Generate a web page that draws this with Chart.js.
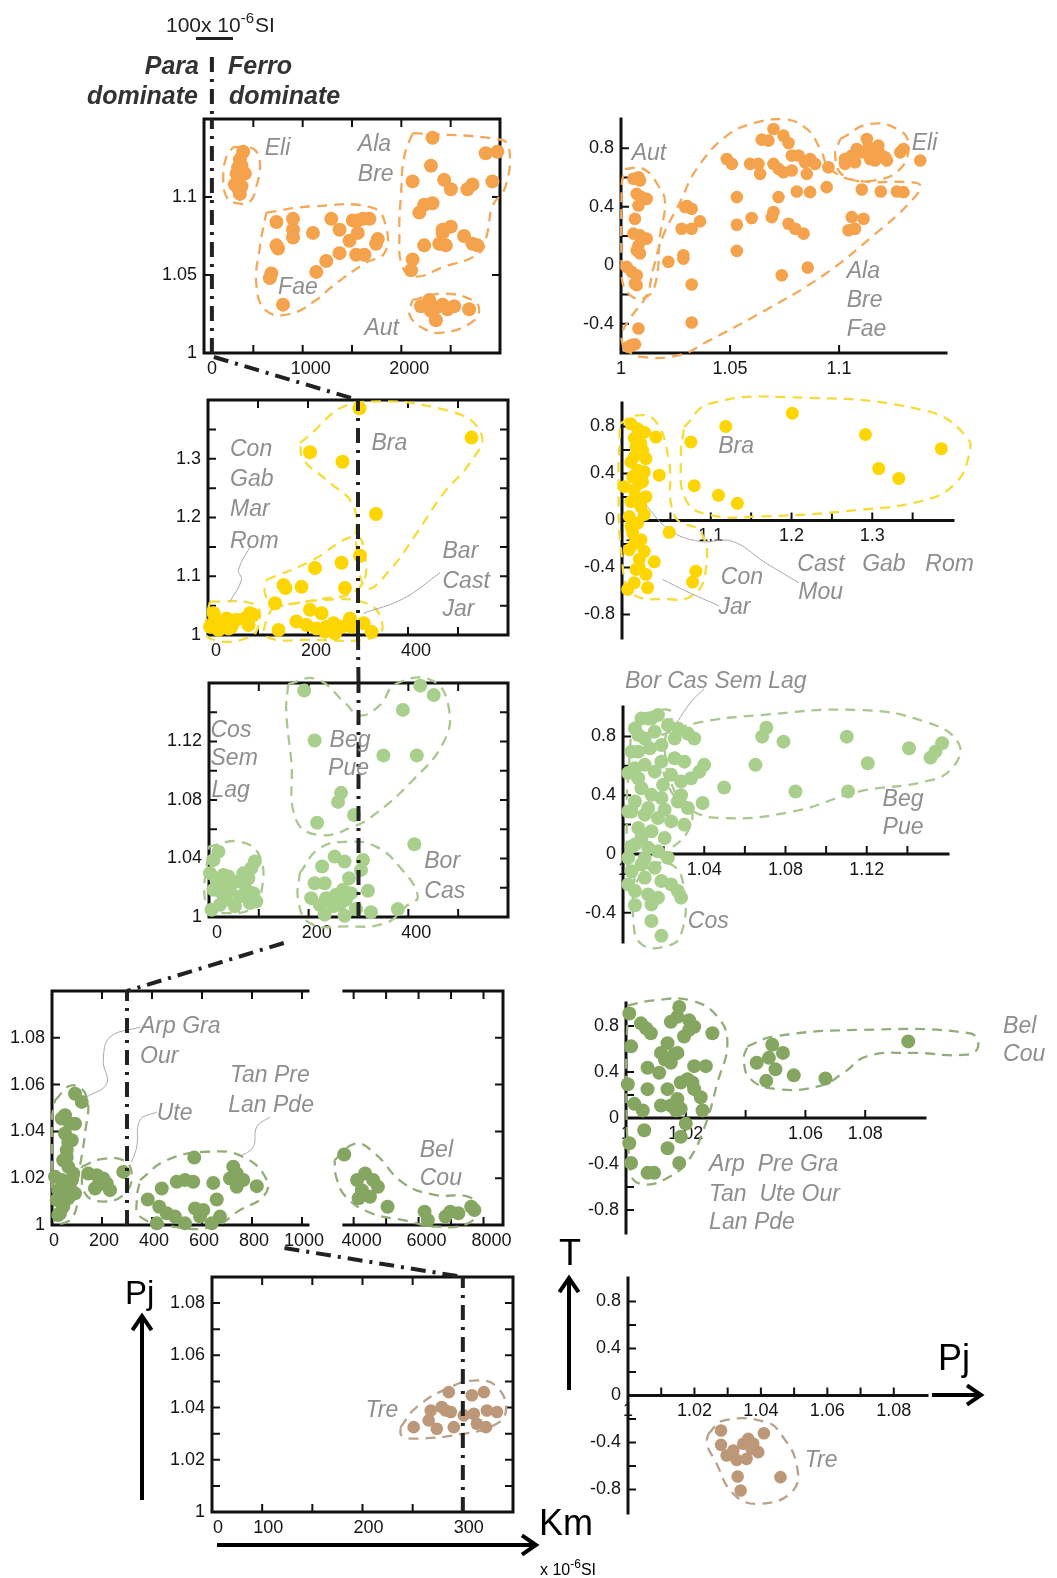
<!DOCTYPE html>
<html>
<head>
<meta charset="utf-8">
<script src="https://cdn.jsdelivr.net/npm/chart.js@4.4.1/dist/chart.umd.min.js"></script>
<style>
  body { margin: 0; background: #fff; width: 1057px; height: 1578px; position: relative; overflow: hidden; }
  canvas { position: absolute; }
</style>
</head>
<body>
<canvas id="overlay" width="1057" height="1578" style="left:0;top:0;z-index:5"></canvas>
<script>
// ---------- data (Km x10^-6 SI vs Pj, and Pj vs T) ----------
const kmLimit = [80, 300, 300, 300, 300]; // para / ferro boundary drawn in each Km panel

// row 1 - orange
const r1Eli = [[397,1.129],[364,1.124],[347,1.119],[364,1.115],[347,1.111],[313,1.108],[380,1.107],[364,1.102],[414,1.115],[330,1.115],[380,1.12],[350,1.105]];
const r1Fae = [[734,1.084],[902,1.086],[902,1.079],[902,1.074],[734,1.069],[751,1.067],[1104,1.077],[1290,1.086],[1374,1.079],[1475,1.072],[1508,1.085],[1559,1.085],[1609,1.086],[1677,1.086],[1559,1.077],[1542,1.063],[1626,1.063],[1761,1.073],[1744,1.070],[1374,1.064],[1239,1.059],[1138,1.052],[683,1.051],[667,1.048],[801,1.031]];
const r1Ala = [[2316,1.138],[2300,1.120],[2114,1.110],[2434,1.111],[2502,1.105],[2670,1.105],[2721,1.108],[2855,1.128],[2973,1.129],[2923,1.110],[2232,1.095],[2316,1.096],[2182,1.090],[2418,1.079],[2502,1.081],[2384,1.070],[2451,1.069],[2636,1.075],[2721,1.070],[2771,1.069],[2232,1.069],[2114,1.060],[2098,1.053],[2418,1.077]];
const r1Aut = [[2199,1.030],[2283,1.034],[2350,1.029],[2418,1.031],[2468,1.028],[2535,1.030],[2687,1.028],[2350,1.021],[2300,1.027]];
const r1EnvEli = [[296,1.132],[498,1.131],[566,1.122],[532,1.107],[465,1.097],[330,1.096],[229,1.100],[195,1.113],[229,1.126]];
const r1EnvFae = [[633,1.090],[1100,1.094],[1710,1.093],[1845,1.081],[1828,1.064],[1643,1.058],[1306,1.043],[1138,1.034],[869,1.025],[633,1.027],[532,1.043],[566,1.068],[616,1.085]];
const r1EnvAla = [[2114,1.141],[2990,1.137],[3091,1.132],[3057,1.107],[2923,1.094],[2872,1.077],[2788,1.064],[2418,1.055],[2148,1.049],[2013,1.055],[1980,1.077],[1997,1.102],[2030,1.126]];
const r1EnvAut = [[2114,1.034],[2418,1.038],[2721,1.034],[2788,1.028],[2721,1.020],[2418,1.013],[2215,1.016],[2081,1.025]];

const r1tAut = [[1.0057,0.591],[1.0080,0.602],[1.0087,0.579],[1.0072,0.488],[1.0095,0.466],[1.0118,0.454],[1.0080,0.409],[1.0064,0.318],[1.0057,0.216],[1.0087,0.204],[1.0102,0.182],[1.0080,0.136],[1.0118,0.182],[1.0072,0.102],[1.0087,0.080],[1.0026,-0.011],[1.0049,-0.045],[1.0072,-0.068],[1.0064,-0.125],[1.0072,-0.136]];
const r1tAbf = [[1.0080,-0.432],[1.0049,-0.545],[1.0064,-0.541],[1.0034,-0.557],[1.0217,0.023],[1.0286,0.068],[1.0294,0.398],[1.0302,0.405],[1.0324,0.386],[1.0278,0.25],[1.0324,0.25],[1.0362,0.30],[1.0286,0.045],[1.0324,-0.132],[1.0324,-0.391],[1.0485,0.727],[1.0508,0.693],[1.0531,0.466],[1.0531,0.277],[1.0531,0.098],[1.0599,0.323],[1.0592,0.693],[1.063,0.693],[1.0638,0.625],[1.0645,0.859],[1.0676,0.852],[1.0699,0.932],[1.0745,0.886],[1.0768,0.836],[1.0699,0.693],[1.0722,0.659],[1.0745,0.636],[1.0783,0.648],[1.0783,0.75],[1.0814,0.75],[1.0844,0.704],[1.0867,0.727],[1.089,0.693],[1.0852,0.625],[1.0722,0.466],[1.0699,0.364],[1.0691,0.329],[1.0768,0.284],[1.0799,0.25],[1.0837,0.216],[1.0806,0.504],[1.0867,0.50],[1.0737,-0.068],[1.0856,-0.016],[1.0951,0.67],[1.0943,0.534],[1.1104,0.518],[1.1191,0.504],[1.1265,0.504],[1.1295,0.50],[1.1058,0.329],[1.1112,0.318],[1.1043,0.239],[1.1073,0.25],[1.1372,0.716]];
const r1tEli = [[1.1027,0.727],[1.1058,0.75],[1.1081,0.795],[1.1104,0.772],[1.1127,0.863],[1.1135,0.807],[1.1157,0.75],[1.118,0.818],[1.1188,0.761],[1.1211,0.738],[1.1219,0.716],[1.128,0.772],[1.1295,0.795],[1.1027,0.693],[1.1073,0.704],[1.1142,0.727],[1.1165,0.716]];
const r1tEnvAut = [[1.0018,0.659],[1.0102,0.659],[1.0171,0.545],[1.0202,0.432],[1.0179,0.204],[1.0156,-0.136],[1.0102,-0.227],[1.0034,-0.193],[1.0003,-0.068],[1.0003,0.545]];
const r1tEnvAbf = [[1.0011,-0.568],[1.0087,-0.625],[1.0271,-0.613],[1.0393,-0.523],[1.0622,-0.341],[1.0928,-0.068],[1.1157,0.204],[1.1326,0.432],[1.1372,0.545],[1.131,0.568],[1.1081,0.579],[1.0959,0.659],[1.0913,0.795],[1.0852,0.932],[1.0745,1.0],[1.0622,0.977],[1.0485,0.886],[1.0347,0.659],[1.0271,0.432],[1.0194,0.204],[1.0148,-0.023],[1.0118,-0.204],[1.0041,-0.364],[1.0003,-0.477]];
const r1tEnvEli = [[1.1005,0.863],[1.1142,0.966],[1.128,0.92],[1.1318,0.818],[1.128,0.659],[1.1157,0.579],[1.102,0.613],[1.0982,0.75]];

// row 2 - yellow
const r2Bra = [[303,1.386],[527,1.336],[204,1.311],[269,1.295],[336,1.206],[304,1.135]];
const r2Mid = [[267,1.123],[214,1.114],[151,1.085],[155,1.080],[187,1.082],[274,1.080],[134,1.054],[204,1.043],[227,1.037]];
const r2Low = [[141,1.0085],[177,1.023],[197,1.017],[217,1.011],[237,1.014],[251,1.020],[267,1.014],[284,1.028],[287,1.014],[311,1.020],[327,1.0057],[234,1.0057],[254,1.003]];
const r2Left = [[11,1.037],[14,1.026],[24,1.017],[37,1.028],[47,1.014],[57,1.026],[74,1.028],[84,1.037],[91,1.034],[4,1.014],[21,1.0085],[41,1.011],[81,1.017]];
const r2EnvBra = [[184,1.327],[297,1.396],[484,1.381],[547,1.341],[524,1.293],[471,1.241],[417,1.173],[364,1.111],[317,1.080],[297,1.151],[291,1.219],[237,1.264],[191,1.298]];
const r2EnvMid = [[117,1.094],[204,1.125],[291,1.168],[311,1.151],[304,1.082],[217,1.060],[131,1.054],[114,1.071]];
const r2EnvLow = [[131,1.048],[237,1.060],[317,1.054],[347,1.026],[337,0.997],[204,0.992],[117,0.997],[117,1.026]];
const r2EnvLeft = [[4,1.057],[91,1.053],[104,1.031],[84,0.997],[4,0.994],[-3,1.026]];
const r2LeadRom = [[84,1.150],[61,1.111],[67,1.094],[44,1.057]];
const r2LeadBar = [[464,1.106],[391,1.062],[311,1.037]];

const r2tBra = [[1.201,0.913],[1.1185,0.80],[1.0753,0.668],[1.2916,0.732],[1.3855,0.611],[1.308,0.442],[1.3328,0.358],[1.0794,0.296],[1.1095,0.214],[1.1329,0.146]];
const r2tCon = [[1.0485,-0.101],[1.0361,0.386],[1.0320,0.71],[1.0815,-0.431],[1.0774,-0.524],[1.0300,-0.352],[1.0093,0.78],[1.0176,0.752],[1.0073,0.625],[1.0155,0.597],[1.0052,0.541],[1.0197,0.527],[1.0093,0.428],[1.0176,0.414],[1.0032,0.372],[1.0114,0.316],[1.0052,0.259],[1.0197,0.203],[1.0011,0.161],[1.0135,0.118],[0.999,0.034],[1.0093,-0.023],[1.0032,-0.107],[1.0135,-0.163],[0.999,-0.248],[1.0176,-0.262],[1.0073,-0.417],[1.0197,-0.459],[1.0052,-0.53],[1.0217,-0.572],[0.997,-0.586],[0.993,0.287],[1.0011,0.823],[1.0135,0.653],[1.0011,0.499],[1.0073,0.20],[1.0114,-0.33],[1.0052,0.70],[1.0155,0.33],[1.0011,-0.05],[1.0114,-0.40],[1.0052,-0.20],[1.0176,0.05]];
const r2tEnvBra = [[1.067,0.794],[1.098,0.992],[1.201,1.048],[1.3657,0.935],[1.4172,0.71],[1.4192,0.541],[1.4028,0.316],[1.3657,0.175],[1.2833,0.09],[1.1597,0.034],[1.098,0.048],[1.0691,0.175],[1.0629,0.541]];
const r2tEnvCon = [[0.9876,0.823],[1.0061,0.893],[1.0308,0.851],[1.0473,0.541],[1.0556,0.034],[1.0885,-0.107],[1.0926,-0.473],[1.0762,-0.642],[1.0473,-0.67],[1.0019,-0.614],[0.9897,-0.304],[0.9856,0.259]];
const r2tLeadMou = [[1.0143,0.175],[1.0485,-0.079],[1.0856,-0.177],[1.1268,-0.177],[1.1679,-0.361],[1.2091,-0.53]];
const r2tLeadJar = [[1.0402,-0.501],[1.0691,-0.6],[1.1103,-0.727]];

// row 3 - light green
const r3Beg = [[191,1.1548],[424,1.1582],[451,1.1518],[389,1.1416],[212,1.1207],[350,1.1105],[417,1.1105],[265,1.0849],[259,1.0787],[291,1.0697],[217,1.0644],[412,1.0497]];
const r3Bor = [[252,1.0413],[272,1.0379],[227,1.0345],[309,1.0390],[305,1.0322],[281,1.0265],[212,1.0231],[232,1.0231],[319,1.0179],[205,1.0129],[235,1.0129],[255,1.0152],[269,1.0186],[285,1.0163],[222,1.0084],[262,1.0084],[295,1.0054],[325,1.0032],[379,1.0054],[232,1.0016],[272,1.0009],[249,1.0073],[275,1.0118]];
const r3Cos = [[19,1.0447],[9,1.039],[2,1.030],[15,1.0254],[29,1.0288],[39,1.0277],[9,1.0186],[26,1.0163],[42,1.0186],[22,1.0084],[35,1.0118],[59,1.0243],[69,1.030],[85,1.0334],[92,1.0379],[75,1.0186],[89,1.0163],[82,1.0095],[62,1.0141],[52,1.0073],[5,1.005],[95,1.0107],[79,1.0265],[32,1.022]];
const r3EnvBeg = [[159,1.1593],[215,1.1627],[275,1.1457],[302,1.1377],[342,1.1445],[375,1.1593],[449,1.1616],[482,1.1411],[469,1.1184],[409,1.0935],[335,1.0708],[289,1.0617],[222,1.056],[175,1.0663],[165,1.1071],[155,1.1411]];
const r3EnvBor = [[182,1.030],[222,1.047],[282,1.0515],[335,1.0481],[382,1.0345],[419,1.0141],[395,1.0073],[355,0.9959],[275,0.9936],[202,0.9959],[179,1.0118]];
const r3EnvCos = [[-1,1.0481],[62,1.0515],[102,1.0413],[105,1.0163],[89,1.0061],[35,1.0027],[-5,1.0073]];

const r3tBeg = [[1.0706,0.859],[1.0685,0.798],[1.079,0.764],[1.1102,0.798],[1.1408,0.719],[1.1571,0.753],[1.1538,0.696],[1.1514,0.655],[1.1205,0.617],[1.0652,0.606],[1.0498,0.452],[1.0849,0.425],[1.1108,0.425],[1.0392,0.346],[1.04,0.606],[1.0376,0.56]];
const r3tMain = [[1.0059,0.854],[1.0124,0.922],[1.0172,0.945],[1.0107,0.786],[1.0156,0.832],[1.0221,0.877],[1.027,0.854],[1.0319,0.82],[1.0351,0.786],[1.0075,0.696],[1.0132,0.719],[1.0189,0.741],[1.0254,0.651],[1.0302,0.628],[1.0237,0.538],[1.0286,0.493],[1.0335,0.515],[1.0059,0.583],[1.0107,0.606],[1.0156,0.56],[1.0197,0.47],[1.0091,0.447],[1.014,0.402],[1.0059,0.357],[1.0189,0.38],[1.027,0.357],[1.0319,0.312],[1.0042,0.289],[1.0107,0.267],[1.0172,0.244],[1.0237,0.221],[1.0302,0.199],[1.0075,0.176],[1.014,0.154],[1.0205,0.108],[1.0059,0.063],[1.0124,0.041],[1.0172,0.018],[1.0026,-0.027],[1.0091,-0.072],[1.0156,-0.095],[1.0042,-0.118],[1.0107,-0.163],[1.0189,-0.185],[1.0237,-0.208],[1.0059,-0.253],[1.0124,-0.276],[1.0172,-0.298],[1.0026,-0.208],[1.027,-0.253],[1.0286,-0.298],[1.014,-0.344],[1.0042,0.696],[1.0026,0.289],[1.0091,0.922],[1.0075,0.515],[1.0124,0.312],[1.0091,0.108],[1.0221,-0.027],[1.0189,0.628],[1.014,0.922],[1.0075,0.809],[1.0254,0.786],[1.0026,0.55],[1.0042,0.05],[1.0107,-0.03],[1.0205,0.30],[1.0286,0.40],[1.0059,-0.35]];
const r3tCos = [[1.014,-0.457],[1.0189,-0.558]];
const r3tEnvBeg = [[1.0189,0.809],[1.0351,0.888],[1.0676,0.945],[1.1164,0.979],[1.1489,0.899],[1.1652,0.753],[1.162,0.583],[1.1489,0.493],[1.1164,0.425],[1.0839,0.289],[1.0481,0.244],[1.0319,0.312],[1.0221,0.47],[1.0189,0.696]];
const r3tEnvMain = [[1.0042,0.877],[1.0124,0.956],[1.0237,0.967],[1.0205,0.741],[1.0254,0.425],[1.0335,0.312],[1.0319,0.154],[1.0221,0.018],[1.0107,-0.118],[1.0042,-0.208],[1.0018,0.244],[1.0034,0.696]];
const r3tEnvCos = [[1.0059,-0.095],[1.0237,-0.072],[1.0302,-0.253],[1.0286,-0.547],[1.0221,-0.626],[1.0091,-0.615],[1.005,-0.434]];
const r3tLeadBor = [[1.04,1.125],[1.0335,1.035],[1.0262,0.888]];

// row 4 - dark green (Km axis broken between 1024 and 3700)
const r4Arp = [[92,1.0561],[119,1.0526],[52,1.0469],[72,1.0433],[92,1.0433],[52,1.0391],[79,1.0362],[59,1.032],[45,1.0277],[65,1.0249],[85,1.022],[39,1.0192],[72,1.0163],[25,1.0149],[52,1.0135],[92,1.0135],[19,1.0107],[45,1.0078],[32,1.005],[65,1.0114],[79,1.0192],[12,1.0206],[59,1.0291],[65,1.0355],[39,1.0455],[25,1.0043]];
const r4Ute = [[145,1.022],[179,1.0213],[205,1.0199],[185,1.0171],[219,1.0178],[232,1.0149],[172,1.0156],[285,1.0227]];
const r4Tan = [[569,1.0288],[439,1.0156],[499,1.0185],[532,1.0192],[565,1.0185],[645,1.018],[712,1.0199],[739,1.022],[725,1.0249],[765,1.0192],[739,1.0163],[819,1.0166],[383,1.0109],[429,1.0078],[459,1.005],[419,1.0007],[492,1.0036],[532,1.0007],[572,1.0071],[592,1.0036],[659,1.0109],[672,1.0036],[639,1.0007],[605,1.0064]];
const r4Bel = [[3710,1.0301],[4106,1.0192],[4353,1.022],[4601,1.0192],[4749,1.0163],[4254,1.0149],[4502,1.0121],[4155,1.0114],[5046,1.0078],[6185,1.0057],[6284,1.0021],[6828,1.0036],[6977,1.0057],[7224,1.005],[7620,1.0078],[7719,1.0064]];
const r4EnvArp = [[12,1.0533],[79,1.0597],[139,1.0547],[132,1.0391],[105,1.0206],[85,1.0036],[12,1.0007],[-1,1.022],[-1,1.0448]];
const r4EnvUte = [[119,1.0249],[192,1.028],[285,1.0277],[319,1.022],[292,1.0135],[205,1.01],[132,1.0135]];
const r4EnvTan = [[352,1.0192],[459,1.0277],[619,1.0313],[765,1.0291],[859,1.0192],[845,1.0121],[752,1.0064],[645,0.9993],[485,0.9993],[352,1.0036],[339,1.0107]];
const r4EnvBel = [[3413,1.0277],[4056,1.0348],[4650,1.0306],[5541,1.0178],[6531,1.0128],[7521,1.0121],[7818,1.0071],[7521,1.0007],[6531,0.9993],[5541,1.0021],[4551,1.005],[3759,1.0121],[3462,1.0206]];
const r4LeadArp = [[352,1.0846],[232,1.0803],[205,1.0703],[219,1.0604],[139,1.0547]];
const r4LeadUte = [[419,1.0483],[352,1.0448],[339,1.0334],[319,1.027]];
const r4LeadTan = [[872,1.0462],[819,1.0419],[805,1.0334],[752,1.0291]];

const r4tArp = [[1.0011,0.909],[1.005,0.823],[1.0067,0.78],[1.0083,0.737],[1.0017,0.623],[1.0072,0.437],[1.0006,0.294],[1.0072,0.251],[1.0028,0.123],[1.0056,0.066],[1.0061,-0.106],[1.0011,-0.22],[1.0017,-0.391],[1.0072,-0.477],[1.0094,-0.477],[1.0139,-0.263],[1.0178,-0.391],[1.0183,-0.163],[1.02,-0.049],[1.0167,0.066],[1.015,0.109],[1.0172,0.166],[1.0183,0.309],[1.0206,0.337],[1.0222,0.309],[1.0228,0.251],[1.025,0.18],[1.0256,0.066],[1.0228,0.451],[1.0267,0.451],[1.0139,0.251],[1.0117,0.566],[1.013,0.509],[1.015,0.48],[1.0111,0.394],[1.0139,0.651],[1.0161,0.551],[1.0178,0.966],[1.0172,0.88],[1.015,0.837],[1.0211,0.851],[1.0228,0.794],[1.0194,0.709],[1.0211,0.766],[1.0289,0.737],[1.0183,0.08],[1.0172,0.566],[1.0117,0.109]];
const r4tBel = [[1.0437,0.48],[1.0489,0.637],[1.0478,0.523],[1.05,0.423],[1.0525,0.566],[1.0469,0.323],[1.0561,0.371],[1.0667,0.343],[1.0944,0.666],[1.1133,0.637]];
const r4tEnvArp = [[1.0006,0.98],[1.0094,1.023],[1.0217,1.023],[1.0306,0.88],[1.0339,0.651],[1.0306,0.309],[1.0261,-0.091],[1.0206,-0.377],[1.0139,-0.52],[1.0061,-0.577],[1.0017,-0.491],[1.0,0.309]];
const r4tEnvBel = [[1.0406,0.623],[1.0494,0.709],[1.0783,0.766],[1.115,0.737],[1.1178,0.623],[1.1139,0.551],[1.095,0.566],[1.0806,0.537],[1.0728,0.394],[1.065,0.28],[1.0506,0.251],[1.0417,0.337],[1.0394,0.509]];

// row 5 - brown
const r5Tre = [[251,1.0325],[268,1.0389],[266,1.0351],[274,1.0319],[279,1.0402],[288,1.0383],[286,1.0459],[291,1.0325],[301,1.037],[309,1.0447],[311,1.0376],[314,1.0338],[321,1.0459],[323,1.0325],[324,1.0389],[334,1.0383],[283,1.0389]];
const r5EnvTre = [[238,1.0325],[254,1.0402],[288,1.0479],[314,1.0504],[334,1.0479],[343,1.0389],[331,1.0332],[301,1.03],[254,1.0281],[239,1.0293]];
const r5tTre = [[1.028,-0.298],[1.028,-0.42],[1.0297,-0.511],[1.0317,-0.468],[1.0327,-0.548],[1.0347,-0.411],[1.0362,-0.369],[1.0377,-0.411],[1.0392,-0.482],[1.0357,-0.539],[1.0372,-0.454],[1.0409,-0.321],[1.033,-0.689],[1.0339,-0.809],[1.0459,-0.695]];
const r5tEnvTre = [[1.0242,-0.326],[1.0287,-0.213],[1.0417,-0.227],[1.0467,-0.355],[1.0507,-0.582],[1.0497,-0.809],[1.0397,-0.922],[1.0317,-0.837],[1.0262,-0.553],[1.0237,-0.411]];

// tick values and printed tick labels
const ticks1x = [0,500,1000,1500,2000,2500,3000], lab1x = [[0,'0'],[1000,'1000'],[2000,'2000']];
const ticks1y = [1,1.05,1.1], lab1y = [[1,'1'],[1.05,'1.05'],[1.1,'1.1']];
const ticks1tx = [1.05,1.1], lab1tx = [[1,'1'],[1.05,'1.05'],[1.1,'1.1']];
const ticksTy6 = [-0.4,-0.2,0,0.2,0.4,0.6,0.8], labTy6 = [[-0.4,'-0.4'],[0,'0'],[0.4,'0.4'],[0.8,'0.8']];
const ticksTy8 = [-0.8,-0.6,-0.4,-0.2,0,0.2,0.4,0.6,0.8], labTy8 = [[-0.8,'-0.8'],[-0.4,'-0.4'],[0,'0'],[0.4,'0.4'],[0.8,'0.8']];
const ticks2x = [100,200,300,400,500], lab2x = [[0,'0'],[200,'200'],[400,'400']];
const ticks2y = [1.05,1.1,1.15,1.2,1.25,1.3,1.35], lab2y = [[1,'1'],[1.1,'1.1'],[1.2,'1.2'],[1.3,'1.3']];
const ticks2tx = [1.05,1.1,1.15,1.2,1.25,1.3,1.35], lab2tx = [[1,'1'],[1.1,'1.1'],[1.2,'1.2'],[1.3,'1.3']];
const ticks3y = [1.02,1.04,1.06,1.08,1.1,1.12,1.14], lab3y = [[1,'1'],[1.04,'1.04'],[1.08,'1.08'],[1.12,'1.12']];
const ticks3tx = [1.02,1.04,1.06,1.08,1.1,1.12,1.14], lab3tx = [[1,'1'],[1.04,'1.04'],[1.08,'1.08'],[1.12,'1.12']];
const ticks4ax = [200,400,600,800,1000], lab4ax = [[0,'0'],[200,'200'],[400,'400'],[600,'600'],[800,'800'],[1000,'1000']];
const ticks4bx = [4000,5000,6000,7000,8000], lab4bx = [[4000,'4000'],[6000,'6000'],[8000,'8000']];
const ticks4y = [1.02,1.04,1.06,1.08], lab4y = [[1,'1'],[1.02,'1.02'],[1.04,'1.04'],[1.06,'1.06'],[1.08,'1.08']];
const ticks4tx = [1.02,1.04,1.06,1.08], lab4tx = [[1,'1'],[1.02,'1.02'],[1.06,'1.06'],[1.08,'1.08']];
const ticks5x = [100,150,200,250,300], lab5x = [[50,'0'],[100,'100'],[200,'200'],[300,'300']];
const ticks5y = [1.01,1.02,1.03,1.04,1.05,1.06,1.07,1.08], lab5y = [[1,'1'],[1.02,'1.02'],[1.04,'1.04'],[1.06,'1.06'],[1.08,'1.08']];
const ticks5tx = [1.01,1.02,1.03,1.04,1.05,1.06,1.07,1.08], lab5tx = [[1,'1'],[1.02,'1.02'],[1.04,'1.04'],[1.06,'1.06'],[1.08,'1.08']];

// ---------- drawing ----------
const FONT = '"Liberation Sans", Arial, sans-serif';
const GREY = '#8e8e8e';
const ORANGE = '#f4a24c', YELLOW = '#fdd500', LGREEN = '#a8d08c', DGREEN = '#85a660', BROWN = '#bc9878';
const ENV = { o: '#f2a95c', y: '#f6dc3a', lg: '#a9c78e', dg: '#93ad78', b: '#b9a28c' };

function pts(a) { return a.map(p => ({ x: p[0], y: p[1] })); }
function loop(a) { return pts(a.concat([a[0]])); }
function labeller(list) {
  return v => { const f = list.find(l => Math.abs(l[0] - v) < 1e-7); return f ? f[1] : ''; };
}

function panel(rect, pad, cfg) {
  const [L, T, R, B] = rect;
  const cv = document.createElement('canvas');
  cv.width = R - L + pad[0] + pad[2];
  cv.height = B - T + pad[1] + pad[3];
  cv.style.left = (L - pad[0]) + 'px';
  cv.style.top = (T - pad[1]) + 'px';
  document.body.appendChild(cv);
  const cross = cfg.xAt !== undefined;
  const ds = [];
  if (cfg.vline !== undefined) {
    ds.push({ data: pts([[cfg.vline, cfg.y[0]], [cfg.vline, cfg.y[1]]]), showLine: true, pointRadius: 0,
      borderColor: '#222', borderWidth: 4, borderDash: [15, 7, 3, 7], order: 0, clip: false });
  }
  (cfg.series || []).forEach(s => ds.push({ data: pts(s[0]), backgroundColor: s[1], borderWidth: 0,
    pointRadius: s[2] || 7, order: 1, clip: false }));
  (cfg.leads || []).forEach(l => ds.push({ data: pts(l), showLine: true, pointRadius: 0, borderColor: '#a8a8a8',
    borderWidth: 1, tension: 0.4, order: 2, clip: false }));
  (cfg.envs || []).forEach(e => ds.push({ data: loop(e[0]), showLine: true, pointRadius: 0, borderColor: e[1],
    borderWidth: 2.3, borderDash: [10, 7], tension: 0.45, order: 3, clip: false }));

  const frame = {
    id: 'frame',
    beforeDatasetsDraw(chart) {
      const ctx = chart.ctx, a = chart.chartArea, xs = chart.scales.x, ys = chart.scales.y;
      const sides = cfg.sides, tl = 8;
      ctx.save();
      ctx.strokeStyle = '#111';
      ctx.lineWidth = 2;
      ctx.beginPath();
      cfg.yTicks.forEach(v => {
        const y = ys.getPixelForValue(v);
        if (sides.includes('left')) { ctx.moveTo(a.left, y); ctx.lineTo(a.left + tl, y); }
        if (sides.includes('right')) { ctx.moveTo(a.right, y); ctx.lineTo(a.right - tl, y); }
      });
      cfg.xTicks.forEach(v => {
        const x = xs.getPixelForValue(v);
        if (sides.includes('top')) { ctx.moveTo(x, a.top); ctx.lineTo(x, a.top + tl); }
        if (sides.includes('bottom')) { ctx.moveTo(x, a.bottom); ctx.lineTo(x, a.bottom - tl); }
        if (cross) { const y0 = ys.getPixelForValue(cfg.xAt); ctx.moveTo(x, y0); ctx.lineTo(x, y0 - tl); }
      });
      ctx.stroke();
      ctx.lineWidth = 3;
      ctx.lineCap = 'square';
      ctx.beginPath();
      if (sides.includes('left')) { ctx.moveTo(a.left, a.top); ctx.lineTo(a.left, a.bottom); }
      if (sides.includes('right')) { ctx.moveTo(a.right, a.top); ctx.lineTo(a.right, a.bottom); }
      if (sides.includes('top')) { ctx.moveTo(a.left, a.top); ctx.lineTo(a.right, a.top); }
      if (sides.includes('bottom')) { ctx.moveTo(a.left, a.bottom); ctx.lineTo(a.right, a.bottom); }
      if (cross) { const y0 = ys.getPixelForValue(cfg.xAt); ctx.moveTo(a.left, y0); ctx.lineTo(a.right, y0); }
      ctx.stroke();
      ctx.restore();
    }
  };
  const notes = {
    id: 'notes',
    afterDatasetsDraw(chart) {
      const ctx = chart.ctx;
      ctx.save();
      ctx.font = 'italic 23px ' + FONT;
      ctx.fillStyle = GREY;
      ctx.textBaseline = 'middle';
      ctx.textAlign = 'left';
      (cfg.notes || []).forEach(n => {
        ctx.fillText(n[0], chart.scales.x.getPixelForValue(n[1]), chart.scales.y.getPixelForValue(n[2]));
      });
      ctx.restore();
    }
  };
  const tickFont = { family: FONT, size: 18 };
  return new Chart(cv, {
    type: 'scatter',
    data: { datasets: ds },
    options: {
      responsive: false, animation: false, events: [],
      layout: { padding: { left: 0, top: pad[1], right: pad[2], bottom: cross ? pad[3] : 0 } },
      scales: {
        x: {
          type: 'linear', position: cross ? { y: cfg.xAt } : 'bottom', min: cfg.x[0], max: cfg.x[1], bounds: 'data',
          grid: { display: false, drawTicks: false }, border: { display: false },
          afterBuildTicks: s => { s.ticks = cfg.xLab.map(l => ({ value: l[0] })); },
          afterFit: s => { if (!cross) s.height = pad[3]; },
          ticks: { autoSkip: false, maxRotation: 0, padding: cfg.xPad || 5, labelOffset: cfg.xOff || 0,
            font: tickFont, color: '#151515', callback: labeller(cfg.xLab) }
        },
        y: {
          type: 'linear', position: 'left', min: cfg.y[0], max: cfg.y[1], bounds: 'data',
          grid: { display: false, drawTicks: false }, border: { display: false },
          afterBuildTicks: s => { s.ticks = cfg.yLab.map(l => ({ value: l[0] })); },
          afterFit: s => { s.width = pad[0]; },
          ticks: { autoSkip: false, padding: 7, font: tickFont, color: '#151515', callback: labeller(cfg.yLab) }
        }
      },
      plugins: { legend: { display: false }, tooltip: { enabled: false } }
    },
    plugins: [frame, notes]
  });
}

// ----- row 1 -----
const c1L = panel([204, 119, 500, 353], [60, 30, 40, 40], {
  x: [0, 3000], y: [1, 1.15], xTicks: ticks1x, yTicks: ticks1y, xLab: lab1x, yLab: lab1y, xOff: 8,
  sides: ['left', 'top', 'right', 'bottom'], vline: kmLimit[0],
  series: [[r1Eli, ORANGE], [r1Fae, ORANGE], [r1Ala, ORANGE], [r1Aut, ORANGE]],
  envs: [[r1EnvEli, ENV.o], [r1EnvFae, ENV.o], [r1EnvAla, ENV.o], [r1EnvAut, ENV.o]],
  notes: [['Eli', 616, 1.131], ['Ala', 1559, 1.1333], ['Bre', 1559, 1.1141], ['Fae', 751, 1.042], ['Aut', 1626, 1.0158]]
});
panel([621, 119, 946, 353], [60, 30, 111, 40], {
  x: [1, 1.149], y: [-0.6, 1.0], xTicks: ticks1tx, yTicks: ticksTy6, xLab: lab1tx, yLab: labTy6,
  sides: ['left', 'bottom'],
  series: [[r1tAut, ORANGE, 6.3], [r1tAbf, ORANGE, 6.3], [r1tEli, ORANGE, 6.3]],
  envs: [[r1tEnvAut, ENV.o], [r1tEnvAbf, ENV.o], [r1tEnvEli, ENV.o]],
  notes: [['Aut', 1.0049, 0.761], ['Eli', 1.1333, 0.829], ['Ala', 1.1035, -0.045], ['Bre', 1.1035, -0.239], ['Fae', 1.1035, -0.443]]
});

// ----- row 2 -----
const c2L = panel([208, 400, 508, 635], [60, 30, 40, 40], {
  x: [0, 600], y: [1, 1.4], xTicks: ticks2x, yTicks: ticks2y, xLab: lab2x, yLab: lab2y, xOff: 8,
  sides: ['left', 'top', 'right', 'bottom'], vline: kmLimit[1],
  series: [[r2Bra, YELLOW], [r2Mid, YELLOW], [r2Low, YELLOW], [r2Left, YELLOW]],
  envs: [[r2EnvBra, ENV.y], [r2EnvMid, ENV.y], [r2EnvLow, ENV.y], [r2EnvLeft, ENV.y]],
  leads: [r2LeadRom, r2LeadBar],
  notes: [['Con', 44, 1.315], ['Gab', 44, 1.264], ['Mar', 44, 1.213], ['Rom', 44, 1.159], ['Bra', 327, 1.3266],
    ['Bar', 469, 1.142], ['Cast', 469, 1.091], ['Jar', 469, 1.043]]
});
panel([622, 403, 953, 638], [60, 30, 104, 50], {
  x: [0.99, 1.4], y: [-1, 1], xAt: 0, xTicks: ticks2tx, yTicks: ticksTy8, xLab: lab2tx, yLab: labTy8,
  sides: ['left'],
  series: [[r2tBra, YELLOW, 6.5], [r2tCon, YELLOW, 6.5]],
  envs: [[r2tEnvBra, ENV.y], [r2tEnvCon, ENV.y]],
  leads: [r2tLeadMou, r2tLeadJar],
  notes: [['Bra', 1.1092, 0.625], ['Cast', 1.2071, -0.375], ['Gab', 1.2875, -0.375], ['Rom', 1.3657, -0.375],
    ['Con', 1.1124, -0.487], ['Mou', 1.2084, -0.614], ['Jar', 1.1095, -0.741]]
});

// ----- row 3 -----
const c3L = panel([209, 683, 508, 917], [60, 30, 40, 40], {
  x: [0, 600], y: [1, 1.16], xTicks: ticks2x, yTicks: ticks3y, xLab: lab2x, yLab: lab3y, xOff: 8,
  sides: ['left', 'top', 'right', 'bottom'], vline: kmLimit[2],
  series: [[r3Beg, LGREEN], [r3Bor, LGREEN], [r3Cos, LGREEN]],
  envs: [[r3EnvBeg, ENV.lg], [r3EnvBor, ENV.lg], [r3EnvCos, ENV.lg]],
  notes: [['Cos', 3, 1.1275], ['Sem', 3, 1.1082], ['Lag', 5, 1.0867], ['Beg', 242, 1.1207], ['Pue', 239, 1.1014],
    ['Bor', 432, 1.0379], ['Cas', 432, 1.0175]]
});
panel([623, 707, 948, 942], [60, 50, 109, 40], {
  x: [1, 1.16], y: [-0.6, 1.0], xAt: 0, xTicks: ticks3tx, yTicks: ticksTy6, xLab: lab3tx, yLab: labTy6,
  sides: ['left'],
  series: [[r3tMain, LGREEN], [r3tBeg, LGREEN], [r3tCos, LGREEN]],
  envs: [[r3tEnvBeg, ENV.lg], [r3tEnvMain, ENV.lg], [r3tEnvCos, ENV.lg]],
  leads: [r3tLeadBor],
  notes: [['Bor Cas Sem Lag', 1.001, 1.171], ['Beg', 1.1278, 0.368], ['Pue', 1.1278, 0.176], ['Cos', 1.0319, -0.461]]
});

// ----- row 4 -----
const c4a = panel([52, 991, 308, 1225], [52, 30, 20, 40], {
  x: [0, 1024], y: [1, 1.1], xTicks: ticks4ax, yTicks: ticks4y, xLab: lab4ax, yLab: lab4y, xOff: 2,
  sides: ['left', 'top', 'bottom'], vline: kmLimit[3],
  series: [[r4Arp, DGREEN], [r4Ute, DGREEN], [r4Tan, DGREEN]],
  envs: [[r4EnvArp, ENV.dg], [r4EnvUte, ENV.dg], [r4EnvTan, ENV.dg]],
  leads: [r4LeadArp, r4LeadUte, r4LeadTan],
  notes: [['Arp Gra', 352, 1.0846], ['Our', 352, 1.0718], ['Ute', 419, 1.0476], ['Tan Pre', 712, 1.064], ['Lan Pde', 705, 1.0512]]
});
panel([338, 991, 503, 1225], [10, 30, 30, 40], {
  x: [3700, 8600], y: [1, 1.1], xTicks: ticks4bx, yTicks: ticks4y, xLab: lab4bx, yLab: [], xOff: 8,
  sides: ['top', 'right', 'bottom'],
  series: [[r4Bel, DGREEN]],
  envs: [[r4EnvBel, ENV.dg]],
  notes: [['Bel', 6036, 1.032], ['Cou', 6036, 1.0199]]
});
panel([626, 1003, 925, 1233], [60, 30, 132, 40], {
  x: [1, 1.1], y: [-1, 1], xAt: 0, xTicks: ticks4tx, yTicks: ticksTy8, xLab: lab4tx, yLab: labTy8,
  sides: ['left'],
  series: [[r4tArp, DGREEN], [r4tBel, DGREEN]],
  envs: [[r4tEnvArp, ENV.dg], [r4tEnvBel, ENV.dg]],
  notes: [['Bel', 1.1261, 0.794], ['Cou', 1.1261, 0.551], ['Arp  Pre Gra', 1.0278, -0.406], ['Tan  Ute Our', 1.0278, -0.663],
    ['Lan Pde', 1.0278, -0.906]]
});

// ----- row 5 -----
const c5L = panel([212, 1277, 513, 1512], [60, 30, 20, 40], {
  x: [50, 350], y: [1, 1.09], xTicks: ticks5x, yTicks: ticks5y, xLab: lab5x, yLab: lab5y, xOff: 6,
  sides: ['left', 'top', 'right', 'bottom'], vline: kmLimit[4],
  series: [[r5Tre, BROWN, 6.3]],
  envs: [[r5EnvTre, ENV.b]],
  notes: [['Tre', 203, 1.0389]]
});
panel([628, 1278, 927, 1513], [60, 30, 40, 40], {
  x: [1, 1.09], y: [-1, 1], xAt: 0, xTicks: ticks5tx, yTicks: ticksTy8, xLab: lab5tx, yLab: labTy8,
  sides: ['left'],
  series: [[r5tTre, BROWN, 6.3]],
  envs: [[r5tEnvTre, ENV.b]],
  notes: [['Tre', 1.0532, -0.553]]
});

// ---------- figure annotations ----------
const ov = document.getElementById('overlay').getContext('2d');
const px = (ch, v) => ch.canvas.offsetLeft + ch.scales.x.getPixelForValue(v);
const py = (ch, v) => ch.canvas.offsetTop + ch.scales.y.getPixelForValue(v);

function dashDot(x1, y1, x2, y2) {
  ov.save();
  ov.strokeStyle = '#222';
  ov.lineWidth = 4;
  ov.setLineDash([15, 7, 3, 7]);
  ov.beginPath(); ov.moveTo(x1, y1); ov.lineTo(x2, y2); ov.stroke();
  ov.restore();
}
dashDot(px(c1L, kmLimit[0]), 57, px(c1L, kmLimit[0]), py(c1L, 1.15));
dashDot(px(c1L, kmLimit[0]) + 2, py(c1L, 1) + 4, px(c2L, kmLimit[1]), py(c2L, 1.4));
dashDot(px(c2L, kmLimit[1]), py(c2L, 1), px(c3L, kmLimit[2]), py(c3L, 1.16));
dashDot(px(c3L, 150), py(c3L, 1) + 26, px(c4a, kmLimit[3]), py(c4a, 1.1));
dashDot(px(c4a, 930), py(c4a, 1) + 23, px(c5L, kmLimit[4]), py(c5L, 1.09));

// scale bar and domain captions
ov.fillStyle = '#222';
ov.font = '21px ' + FONT;
ov.textBaseline = 'alphabetic';
ov.fillText('100x 10', 166, 32);
let w = ov.measureText('100x 10').width;
ov.font = '15px ' + FONT;
ov.fillText('-6', 166 + w, 23);
w += ov.measureText('-6').width;
ov.font = '21px ' + FONT;
ov.fillText('SI', 167 + w, 32);
ov.fillRect(196, 37, 37, 3);

ov.fillStyle = '#333';
ov.font = 'italic bold 25px ' + FONT;
ov.textAlign = 'right';
ov.fillText('Para', 199, 74);
ov.fillText('dominate', 198, 104);
ov.textAlign = 'left';
ov.fillText('Ferro', 228, 74);
ov.fillText('dominate', 229, 104);

// axis arrows
function arrow(x1, y1, x2, y2) {
  const a = Math.atan2(y2 - y1, x2 - x1), h = 17;
  ov.save();
  ov.strokeStyle = '#000';
  ov.lineWidth = 4;
  ov.beginPath();
  ov.moveTo(x1, y1); ov.lineTo(x2, y2);
  ov.moveTo(x2 - h * Math.cos(a - 0.6), y2 - h * Math.sin(a - 0.6));
  ov.lineTo(x2, y2);
  ov.lineTo(x2 - h * Math.cos(a + 0.6), y2 - h * Math.sin(a + 0.6));
  ov.stroke();
  ov.restore();
}
arrow(142, 1500, 142, 1316);
arrow(217, 1545, 536, 1545);
arrow(569, 1390, 569, 1278);
arrow(932, 1395, 981, 1395);

ov.fillStyle = '#000';
ov.textAlign = 'left';
ov.font = '33px ' + FONT;
ov.fillText('Pj', 125, 1304);
ov.font = '36px ' + FONT;
ov.fillText('Km', 539, 1535);
ov.fillText('Pj', 938, 1370);
ov.textAlign = 'center';
ov.fillText('T', 570, 1265);
ov.textAlign = 'left';
ov.font = '16px ' + FONT;
ov.fillText('x 10', 540, 1575);
w = ov.measureText('x 10').width;
ov.font = '12px ' + FONT;
ov.fillText('-6', 540 + w, 1568);
w += ov.measureText('-6').width;
ov.font = '16px ' + FONT;
ov.fillText('SI', 540 + w, 1575);
</script>
</body>
</html>
